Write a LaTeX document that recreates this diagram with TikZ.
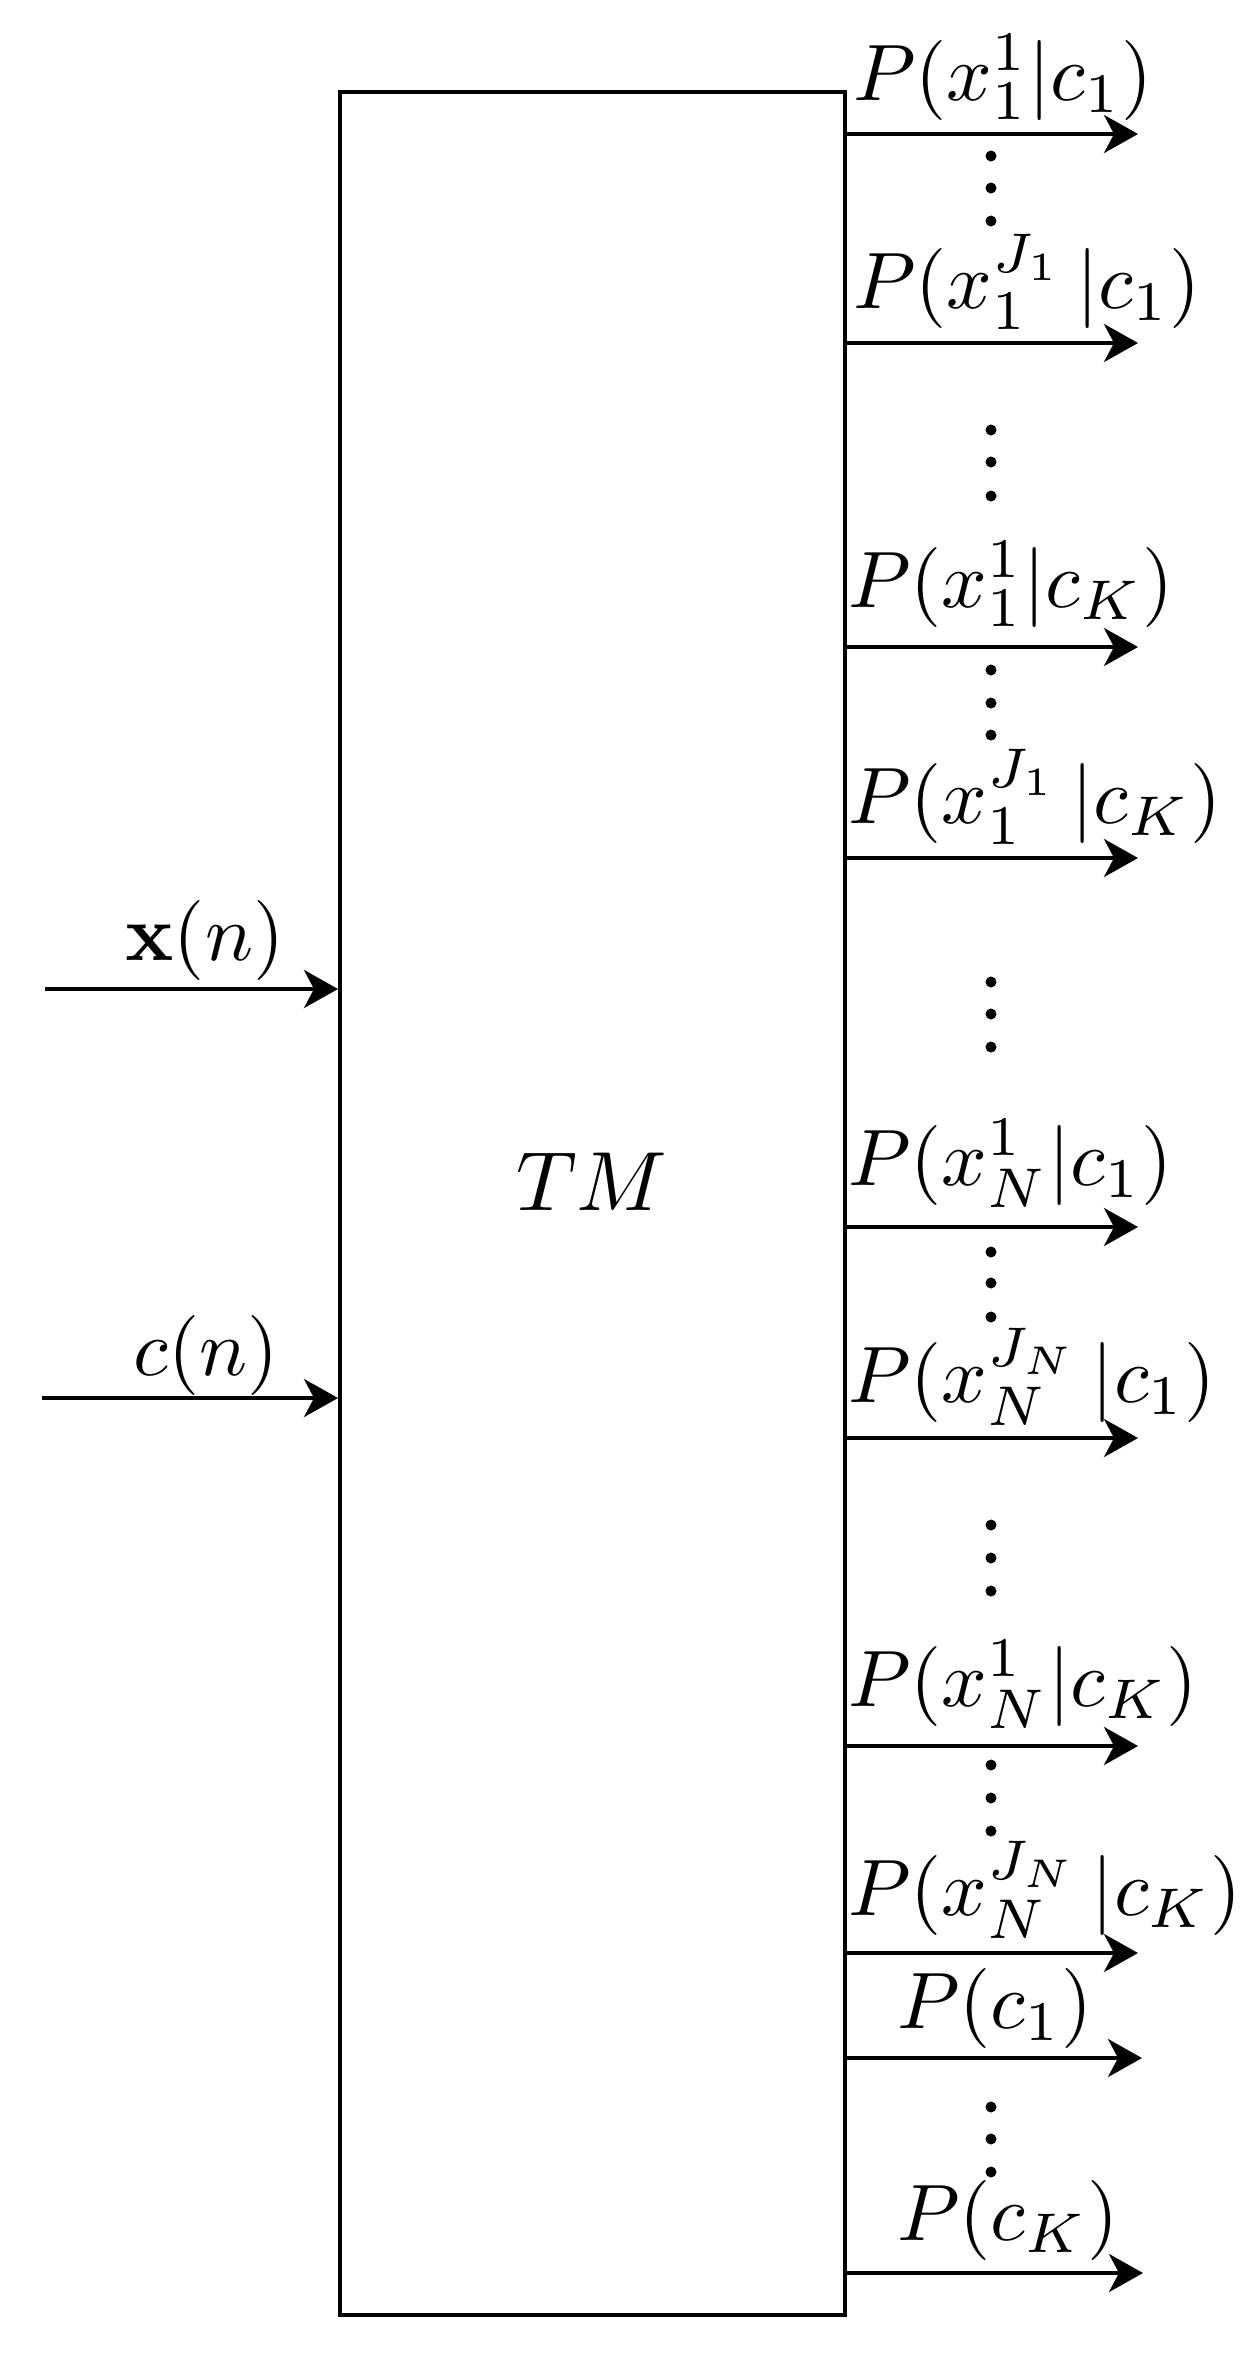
\documentclass[tikz,border=0pt]{standalone}
\usetikzlibrary{arrows.meta}
\newcommand{\zzmath}[1]{\scalebox{4.0}{$#1$}}
\tikzset{
  blk/.style={draw=black, line width=2pt, inner sep=0pt, minimum width=252.5pt, minimum height=1111.5pt},
  conn/.style={line width=2pt, -{Stealth[length=17pt,width=19pt,inset=5pt]}},
  lbl/.style={inner sep=0pt, anchor=base west},
  dotc/.style={fill=black, draw=none, circle, inner sep=0pt, minimum size=5.5pt}
}
\begin{document}
\begin{tikzpicture}[x=0.5pt,y=-0.5pt]
\useasboundingbox (0,0) rectangle (1240,2357);
% main block
\node[blk] (tm) at (592.5,1203.5) {};
\node[inner sep=0pt, anchor=base] (tmtext) at (592,1210) {\scalebox{4.2}{$TM$}};
% inputs
\coordinate (xin) at (45,989);
\coordinate (cin) at (42,1398);
\draw[conn] (xin) -- (tm.west |- xin);
\draw[conn] (cin) -- (tm.west |- cin);
\node[lbl] (xlbl) at (125,960) {\zzmath{\mathbf{x}(n)}};
\node[lbl] (clbl) at (133,1375) {\zzmath{c(n)}};
% outputs
\coordinate (o1) at (1138,134);
\coordinate (o2) at (1138,343);
\coordinate (o3) at (1138,647);
\coordinate (o4) at (1138,858);
\coordinate (o5) at (1138,1227);
\coordinate (o6) at (1138,1438);
\coordinate (o7) at (1138,1746);
\coordinate (o8) at (1138,1953);
\coordinate (o9) at (1142,2058);
\coordinate (o10) at (1143,2273);
\foreach \o in {o1,o2,o3,o4,o5,o6,o7,o8,o9,o10}{
  \draw[conn] (tm.east |- \o) -- (\o);
}
\node[lbl] (l1) at (853,100) {\zzmath{P(x_1^1|c_1)}};
\node[lbl] (l2) at (853,308) {\zzmath{P(x_1^{J_1}\,|c_1)}};
\node[lbl] (l3) at (848,607) {\zzmath{P(x_1^1|c_K)}};
\node[lbl] (l4) at (848,823) {\zzmath{P(x_1^{J_1}\,|c_K)}};
\node[lbl] (l5) at (848,1185) {\zzmath{P(x_N^1|c_1)}};
\node[lbl] (l6) at (848,1402) {\zzmath{P(x_N^{J_N}\,|c_1)}};
\node[lbl] (l7) at (848,1706) {\zzmath{P(x_N^1|c_K)}};
\node[lbl] (l8) at (848,1915) {\zzmath{P(x_N^{J_N}\,|c_K)}};
\node[lbl] (l9) at (897,2028) {\zzmath{P(c_1)}};
\node[lbl] (l10) at (897,2240) {\zzmath{P(c_K)}};
% vertical dots
\foreach \y [count=\i] in {156,188,221, 430,462,496, 670,703,735, 982,1014,1047, 1252,1283,1317, 1525,1558,1591, 1765,1798,1831, 2107,2139,2172}{
  \node[dotc] (d\i) at (991,\y) {};
}
\end{tikzpicture}
\end{document}
